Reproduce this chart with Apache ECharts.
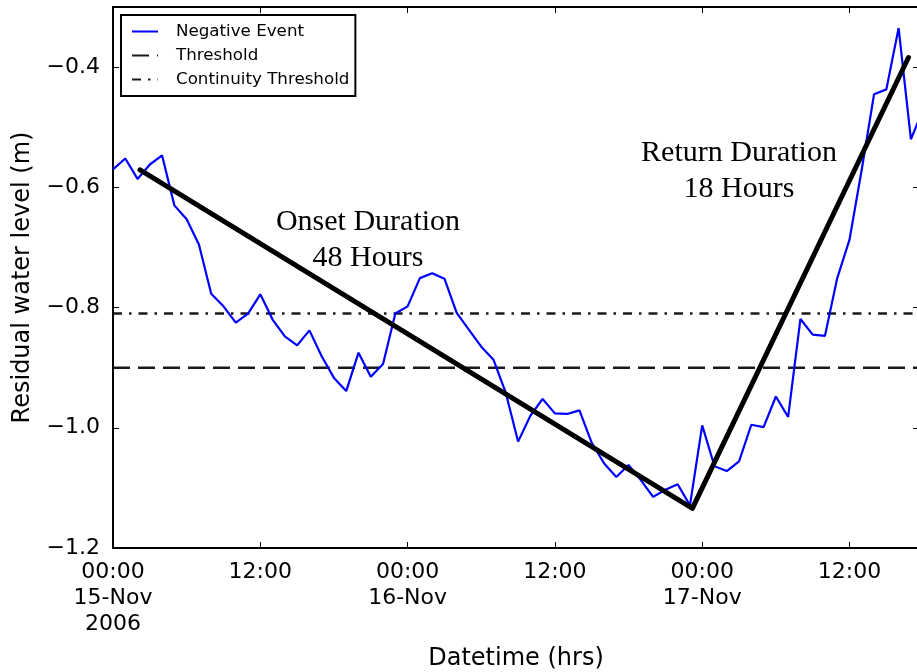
<!DOCTYPE html>
<html>
<head>
<meta charset="utf-8">
<script src="https://cdn.jsdelivr.net/npm/echarts@6/dist/echarts.min.js"></script>
<style>
html,body{margin:0;padding:0;background:#fff;}
#chart{width:917px;height:672px;}
</style>
</head>
<body>
<div id="chart"></div>
<script>
// Hours since 00:00 15-Nov-2006
const hours = [0,1,2,3,4,5,6,7,8,9,10,11,12,13,14,15,16,17,18,19,20,21,22,23,24,25,26,27,28,29,30,31,32,33,34,35,36,37,38,39,40,41,42,43,44,45,46,47,48,49,50,51,52,53,54,55,56,57,58,59,60,61,62,63,64,65,66];
const residual = [-0.570,-0.552,-0.586,-0.562,-0.547,-0.630,-0.653,-0.695,-0.777,-0.798,
  -0.825,-0.810,-0.778,-0.820,-0.848,-0.863,-0.838,-0.881,-0.917,-0.939,
  -0.875,-0.915,-0.894,-0.810,-0.798,-0.751,-0.743,-0.752,-0.809,-0.837,
  -0.865,-0.887,-0.942,-1.023,-0.980,-0.952,-0.976,-0.977,-0.971,-1.025,
  -1.059,-1.082,-1.062,-1.087,-1.115,-1.103,-1.094,-1.129,-0.996,-1.064,
  -1.072,-1.056,-0.995,-0.999,-0.948,-0.982,-0.819,-0.845,-0.847,-0.751,
  -0.687,-0.570,-0.445,-0.437,-0.335,-0.520,-0.470];
const fitHours = [2.2, 47.2, 64.8];
const fitValues = [-0.571, -1.134, -0.384];
const thresholdValue = -0.9;
const continuityValue = -0.81;
const thresholdSpan = [0, 66];
const xTickLabels = ['00:00\n15-Nov\n2006','12:00','00:00\n16-Nov','12:00','00:00\n17-Nov','12:00'];
const seriesNames = ['Negative Event','Threshold','Continuity Threshold'];
const annotations = ['Onset Duration\n48 Hours','Return Duration\n18 Hours'];

const chart = echarts.init(document.getElementById('chart'), null, {renderer:'canvas'});
const font = 'DejaVu Sans';
const xMax = 65.66;

const baseX = {
  type:'value', min:0, max:xMax, interval:12,
  axisLine:{show:true, onZero:false, lineStyle:{color:'#000', width:2}},
  axisTick:{show:true, inside:true, length:6, lineStyle:{color:'#000', width:1}},
  splitLine:{show:false}
};
const baseY = {
  type:'value', min:-1.2, max:-0.3, interval:0.2,
  axisLine:{show:true, onZero:false, lineStyle:{color:'#000', width:2}},
  axisTick:{show:true, inside:true, length:6, lineStyle:{color:'#000', width:1}},
  splitLine:{show:false}
};

chart.setOption({
  animation:false,
  backgroundColor:'#fff',
  grid:{left:113, top:7, width:806, height:541, containLabel:false, outerBoundsMode:'none'},
  legend:{
    data:seriesNames, orient:'vertical', left:121, top:15,
    backgroundColor:'#fff', borderColor:'#000', borderWidth:2, borderRadius:0,
    padding:[8,6,8,10], itemGap:7, itemWidth:26, itemHeight:18,
    itemStyle:{opacity:0},
    textStyle:{fontFamily:font, fontSize:16.7, color:'#000', padding:[0,0,0,13]}
  },
  xAxis:[
    Object.assign({}, baseX, {
      position:'bottom',
      name:'Datetime (hrs)', nameLocation:'middle', nameGap:99,
      nameTextStyle:{fontFamily:font, fontSize:24, color:'#000'},
      axisLabel:{show:true, margin:11, fontFamily:font, fontSize:22, color:'#000', lineHeight:26,
        showMaxLabel:false, verticalAlign:'top',
        formatter:function(v){ const i = Math.round(v/12); return xTickLabels[i] || ''; }}
    }),
    Object.assign({}, baseX, {position:'top', axisLabel:{show:false}})
  ],
  yAxis:[
    Object.assign({}, baseY, {
      position:'left',
      name:'Residual water level (m)', nameLocation:'middle', nameGap:78,
      nameTextStyle:{fontFamily:font, fontSize:24, color:'#000'},
      axisLabel:{show:true, margin:13, fontFamily:font, fontSize:22, color:'#000', showMaxLabel:false,
        formatter:function(v){ return (v<0?'\u2212':'') + Math.abs(v).toFixed(1); }}
    }),
    Object.assign({}, baseY, {position:'right', axisLabel:{show:false}})
  ],
  series:[
    {
      name:seriesNames[1], type:'line', symbol:'none', z:2,
      data:thresholdSpan.map(h=>[h, thresholdValue]),
      itemStyle:{color:'#1a1a1a'},
      lineStyle:{color:'#1a1a1a', width:2.5, type:[17,8]}
    },
    {
      name:seriesNames[2], type:'line', symbol:'none', z:2,
      data:thresholdSpan.map(h=>[h, continuityValue]),
      itemStyle:{color:'#1a1a1a'},
      lineStyle:{color:'#1a1a1a', width:2.5, type:[9,7,2.5,7]}
    },
    {
      name:seriesNames[0], type:'line', symbol:'none', z:3,
      data:hours.map((h,i)=>[h, residual[i]]),
      itemStyle:{color:'#0000ff'},
      lineStyle:{color:'#0000ff', width:2.2}
    },
    {
      name:'fit', type:'line', symbol:'none', z:4,
      data:fitHours.map((h,i)=>[h, fitValues[i]]),
      itemStyle:{color:'#000'},
      lineStyle:{color:'#000', width:5, cap:'round', join:'round'}
    }
  ],
  graphic:[
    {type:'text', x:368, y:204, style:{text:annotations[0], textAlign:'center',
      font:'30px "Liberation Serif"', lineHeight:36, fill:'#000'}},
    {type:'text', x:739, y:135, style:{text:annotations[1], textAlign:'center',
      font:'30px "Liberation Serif"', lineHeight:36, fill:'#000'}}
  ]
});
</script>
</body>
</html>
